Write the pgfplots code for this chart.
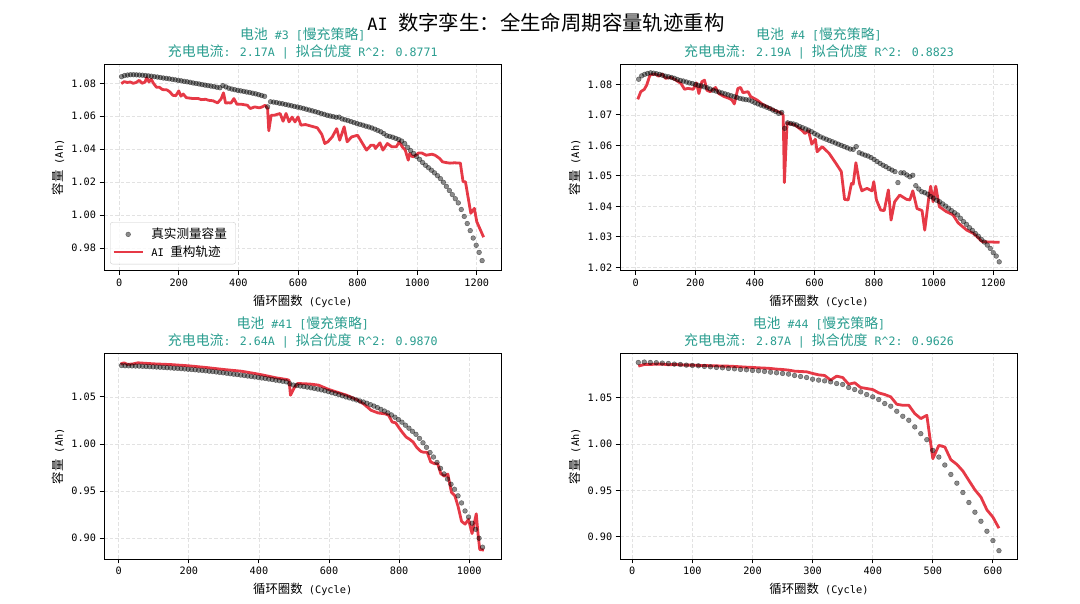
\documentclass[border=0pt]{standalone}
\usepackage{fontspec}
\setmainfont{DejaVu Sans Mono}
\newfontfamily\cjk[Scale=1.2]{Noto Sans CJK SC}
\usepackage{pgfplots}
\pgfplotsset{compat=1.18}
\definecolor{titlec}{HTML}{2A9D8F}
\definecolor{redc}{HTML}{E63946}
\definecolor{gridc}{HTML}{E2E2E2}
\definecolor{legc}{HTML}{CCCCCC}
\tikzset{ttl/.style={anchor=base, text=titlec, font=\fontsize{11.6}{14}\selectfont}}
\pgfplotsset{
 bat/.style={
  scale only axis, width=397.5pt,
  axis line style={line width=0.9pt, black},
  tick align=outside, tick pos=left,
  major tick length=4.5pt,
  tick style={black, line width=0.9pt},
  grid=major,
  major grid style={gridc, line width=0.8pt, dash pattern=on 3.5pt off 2pt},
  ticklabel style={font=\fontsize{10.2}{12}\selectfont},
  /pgf/number format/assume math mode=true,
  scaled ticks=false,
  xticklabel style={/pgf/number format/1000 sep={}},
  yticklabel style={/pgf/number format/fixed, /pgf/number format/fixed zerofill, /pgf/number format/precision=2},
  label style={font=\fontsize{10.3}{12}\selectfont},
  xlabel={{\cjk 循环圈数} (Cycle)},
  ylabel={{\cjk 容量} (Ah)},
  xlabel style={at={(axis description cs:0.5,0)}, anchor=base, yshift=-34.8pt},
  ylabel style={at={(axis description cs:-0.1036,0.5)}, anchor=base},
 },
 sc/.style={only marks, mark=*, mark size=2.4pt, mark options={fill=black, draw=black, fill opacity=0.45, draw opacity=0.5, line width=0.4pt}},
 ln/.style={redc, line width=2.8pt, line join=round, mark=none},
 scleg/.style={legend image code/.code={\path[draw=none, fill=none] (0pt,0pt) -- (29pt,0pt); \draw[##1, only marks] plot coordinates {(14.6pt,0pt)};}},
 lnleg/.style={legend image code/.code={\draw[##1] (0pt,0pt) -- (29pt,0pt);}},
}
\begin{document}
\begin{tikzpicture}
% ---------------- A ----------------
\begin{axis}[bat, name=A, at={(104pt,333.3pt)}, anchor=south west, height=206.7pt,
  xmin=-51, xmax=1283, ymin=0.9664, ymax=1.0917,
  xtick={0,200,400,600,800,1000,1200}, ytick={0.98,1.00,1.02,1.04,1.06,1.08},
  legend style={at={(axis description cs:0,0)}, anchor=south west, xshift=6pt, yshift=6.4pt,
    draw=legc, rounded corners=2.5pt, fill=white, fill opacity=0.8, text opacity=1, draw opacity=1,
    inner xsep=2pt, inner ysep=4pt, font=\fontsize{10.5}{12}\selectfont, row sep=1.5pt, column sep=5.3pt},
  legend cell align=left]
\addplot[sc, scleg] coordinates {
(8,1.0840)(18,1.0847)(28,1.0850)(38,1.0852)(48,1.0852)(58,1.0851)(68,1.0850)(78,1.0849)(88,1.0847)(98,1.0845)
(108,1.0843)(118,1.0840)(128,1.0838)(138,1.0835)(148,1.0832)(158,1.0830)(168,1.0827)(178,1.0824)(188,1.0821)(198,1.0818)
(208,1.0815)(218,1.0812)(228,1.0809)(238,1.0806)(248,1.0802)(258,1.0799)(268,1.0796)(278,1.0792)(288,1.0789)(298,1.0786)
(308,1.0783)(318,1.0780)(328,1.0776)(338,1.0773)(348,1.0786)(358,1.0778)(368,1.0770)(378,1.0765)(388,1.0761)(398,1.0757)
(408,1.0754)(418,1.0751)(428,1.0747)(438,1.0744)(448,1.0740)(458,1.0736)(468,1.0731)(478,1.0726)(488,1.0721)(498,1.0657)
(508,1.0688)(518,1.0686)(528,1.0683)(538,1.0679)(548,1.0676)(558,1.0672)(568,1.0668)(578,1.0664)(588,1.0660)(598,1.0656)
(608,1.0652)(618,1.0648)(628,1.0643)(638,1.0638)(648,1.0633)(658,1.0628)(668,1.0623)(678,1.0617)(688,1.0612)(698,1.0606)
(708,1.0602)(718,1.0598)(728,1.0594)(738,1.0595)(748,1.0584)(758,1.0579)(768,1.0574)(778,1.0568)(788,1.0562)(798,1.0556)
(808,1.0551)(818,1.0546)(828,1.0540)(838,1.0535)(848,1.0529)(858,1.0522)(868,1.0514)(878,1.0506)(888,1.0495)(898,1.0482)
(908,1.0478)(918,1.0473)(928,1.0466)(938,1.0459)(948,1.0450)(958,1.0435)(968,1.0412)(978,1.0392)(988,1.0375)(998,1.0356)
(1008,1.0339)(1018,1.0320)(1028,1.0303)(1038,1.0288)(1048,1.0273)(1058,1.0257)(1068,1.0240)(1078,1.0222)(1088,1.0200)(1098,1.0175)
(1108,1.0150)(1118,1.0125)(1128,1.0100)(1138,1.0075)(1148,1.0035)(1158,0.9993)(1168,0.9950)(1178,0.9907)(1188,0.9862)(1198,0.9818)
(1208,0.9775)(1218,0.9725)};
\addlegendentry{{\cjk 真实测量容量}\hspace*{4.8pt}}
\addplot[ln, lnleg] coordinates {
(7,1.0798)(17,1.0810)(27,1.0805)(37,1.0808)(47,1.0800)(57,1.0805)(67,1.0818)(77,1.0800)(87,1.0808)(92,1.0834)
(100,1.0808)(107,1.0826)(115,1.0800)(125,1.0776)(135,1.0776)(145,1.0762)(160,1.0760)(170,1.0748)(180,1.0727)(190,1.0725)
(200,1.0754)(207,1.0722)(215,1.0735)(225,1.0713)(245,1.0708)(265,1.0708)(275,1.0701)(290,1.0703)(300,1.0697)(315,1.0694)
(330,1.0681)(342,1.0705)(350,1.0742)(357,1.0680)(367,1.0682)(375,1.0680)(385,1.0707)(395,1.0673)(410,1.0673)(430,1.0667)
(440,1.0647)(455,1.0657)(470,1.0651)(480,1.0657)(490,1.0667)(498,1.0647)(502,1.0512)(510,1.0606)(520,1.0606)(540,1.0617)
(550,1.0570)(560,1.0617)(570,1.0566)(580,1.0595)(590,1.0566)(600,1.0596)(610,1.0546)(625,1.0550)(645,1.0540)(665,1.0530)
(680,1.0490)(690,1.0435)(700,1.0445)(715,1.0475)(730,1.0525)(740,1.0455)(755,1.0536)(765,1.0445)(780,1.0475)(800,1.0485)
(830,1.0395)(845,1.0425)(855,1.0425)(860,1.0405)(875,1.0439)(885,1.0395)(900,1.0435)(915,1.0415)(930,1.0415)(940,1.0445)
(950,1.0415)(960,1.0395)(970,1.0334)(975,1.0374)(985,1.0354)(995,1.0364)(1005,1.0378)(1015,1.0378)(1030,1.0364)(1050,1.0370)
(1060,1.0364)(1075,1.0345)(1085,1.0324)(1095,1.0320)(1110,1.0316)(1125,1.0318)(1145,1.0316)(1154,1.0203)(1162,1.0203)(1180,1.0012)
(1192,1.0042)(1200,0.9961)(1223,0.9867)};
\addlegendentry{AI {\cjk 重构轨迹}}
\end{axis}
% ---------------- B ----------------
\begin{axis}[bat, name=B, at={(620.2pt,333.3pt)}, anchor=south west, height=206.7pt,
  xmin=-52, xmax=1282, ymin=1.0189, ymax=1.0867,
  xtick={0,200,400,600,800,1000,1200}, ytick={1.02,1.03,1.04,1.05,1.06,1.07,1.08}]
\addplot[sc] coordinates {
(10,1.0817)(20,1.0828)(30,1.0833)(40,1.0836)(50,1.0838)(60,1.0837)(70,1.0835)(80,1.0833)(90,1.0830)(100,1.0827)
(110,1.0825)(120,1.0823)(130,1.0820)(140,1.0816)(150,1.0813)(160,1.0811)(170,1.0808)(180,1.0805)(190,1.0803)(200,1.0800)
(210,1.0797)(220,1.0795)(230,1.0792)(240,1.0789)(250,1.0785)(260,1.0781)(270,1.0778)(280,1.0775)(290,1.0772)(300,1.0769)
(310,1.0766)(320,1.0763)(330,1.0760)(340,1.0757)(350,1.0754)(360,1.0752)(370,1.0750)(380,1.0749)(390,1.0745)(400,1.0740)
(410,1.0736)(420,1.0732)(430,1.0729)(440,1.0725)(450,1.0721)(460,1.0716)(470,1.0711)(480,1.0705)(490,1.0708)(500,1.0656)
(510,1.0674)(520,1.0672)(530,1.0670)(540,1.0667)(550,1.0662)(560,1.0658)(570,1.0654)(580,1.0650)(590,1.0645)(600,1.0639)
(610,1.0634)(620,1.0628)(630,1.0624)(640,1.0620)(650,1.0616)(660,1.0612)(670,1.0608)(680,1.0604)(690,1.0600)(700,1.0596)
(710,1.0592)(720,1.0588)(730,1.0587)(740,1.0596)(750,1.0576)(760,1.0572)(770,1.0568)(780,1.0565)(790,1.0560)(800,1.0554)
(810,1.0547)(820,1.0541)(830,1.0535)(840,1.0530)(850,1.0524)(860,1.0519)(870,1.0514)(880,1.0478)(890,1.0510)(900,1.0510)
(910,1.0503)(920,1.0497)(930,1.0502)(940,1.0468)(950,1.0457)(960,1.0448)(970,1.0445)(980,1.0440)(990,1.0432)(1000,1.0427)
(1010,1.0420)(1020,1.0415)(1030,1.0408)(1040,1.0401)(1050,1.0394)(1060,1.0386)(1070,1.0379)(1080,1.0372)(1090,1.0361)(1100,1.0350)
(1110,1.0341)(1120,1.0330)(1130,1.0321)(1140,1.0311)(1150,1.0302)(1160,1.0292)(1170,1.0283)(1180,1.0273)(1190,1.0262)(1200,1.0248)
(1210,1.0237)(1220,1.0218)};
\addplot[ln] coordinates {
(7,1.0751)(17,1.0776)(29,1.0784)(37,1.0798)(48,1.0831)(66,1.0834)(77,1.0827)(89,1.0834)(100,1.0820)(118,1.0823)
(135,1.0814)(152,1.0803)(164,1.0784)(175,1.0787)(193,1.0784)(204,1.0805)(212,1.0770)(222,1.0809)(231,1.0814)(239,1.0781)
(250,1.0776)(268,1.0790)(279,1.0770)(297,1.0760)(314,1.0754)(323,1.0749)(331,1.0736)(343,1.0787)(352,1.0790)(360,1.0773)
(377,1.0776)(386,1.0760)(407,1.0749)(424,1.0736)(441,1.0727)(464,1.0716)(487,1.0707)(495,1.0699)(499,1.0478)(508,1.0674)
(534,1.0667)(557,1.0650)(568,1.0639)(580,1.0648)(591,1.0604)(603,1.0620)(609,1.0579)(626,1.0596)(649,1.0574)(672,1.0541)
(690,1.0514)(701,1.0423)(713,1.0421)(724,1.0475)(730,1.0473)(739,1.0543)(751,1.0475)(759,1.0451)(776,1.0459)(793,1.0451)
(799,1.0481)(808,1.0421)(822,1.0388)(834,1.0386)(848,1.0454)(857,1.0355)(869,1.0415)(886,1.0437)(909,1.0423)(920,1.0421)
(930,1.0451)(944,1.0393)(961,1.0386)(970,1.0322)(984,1.0432)(990,1.0466)(998,1.0415)(1007,1.0466)(1019,1.0399)(1042,1.0383)
(1065,1.0372)(1082,1.0346)(1111,1.0322)(1134,1.0311)(1163,1.0284)(1221,1.0282)};
\end{axis}
% ---------------- C ----------------
\begin{axis}[bat, name=C, at={(104pt,45pt)}, anchor=south west, height=205.7pt,
  xmin=-42, xmax=1092, ymin=0.878, ymax=1.0963,
  xtick={0,200,400,600,800,1000}, ytick={0.90,0.95,1.00,1.05}]
\addplot[sc] coordinates {
(8,1.0833)(18,1.0831)(28,1.0830)(38,1.0829)(48,1.0828)(58,1.0827)(68,1.0825)(78,1.0823)(88,1.0821)(98,1.0819)
(108,1.0817)(118,1.0815)(128,1.0813)(138,1.0810)(148,1.0808)(158,1.0805)(168,1.0803)(178,1.0800)(188,1.0797)(198,1.0794)
(208,1.0791)(218,1.0788)(228,1.0784)(238,1.0781)(248,1.0777)(258,1.0773)(268,1.0769)(278,1.0765)(288,1.0760)(298,1.0756)
(308,1.0751)(318,1.0746)(328,1.0741)(338,1.0737)(348,1.0732)(358,1.0727)(368,1.0722)(378,1.0717)(388,1.0712)(398,1.0707)
(408,1.0701)(418,1.0696)(428,1.0690)(438,1.0684)(448,1.0678)(458,1.0672)(468,1.0666)(478,1.0660)(488,1.0640)(498,1.0626)
(508,1.0621)(518,1.0616)(528,1.0610)(538,1.0604)(548,1.0597)(558,1.0590)(568,1.0583)(578,1.0575)(588,1.0566)(598,1.0556)
(608,1.0545)(618,1.0535)(628,1.0524)(638,1.0512)(648,1.0500)(658,1.0490)(668,1.0479)(678,1.0468)(688,1.0457)(698,1.0446)
(708,1.0433)(718,1.0418)(728,1.0403)(738,1.0387)(748,1.0368)(758,1.0350)(768,1.0331)(778,1.0309)(788,1.0285)(798,1.0260)
(808,1.0232)(818,1.0200)(828,1.0168)(838,1.0135)(848,1.0103)(858,1.0060)(868,1.0013)(878,0.9965)(888,0.9910)(898,0.9862)
(908,0.9805)(918,0.9742)(928,0.9683)(938,0.9628)(948,0.9573)(958,0.9520)(968,0.9450)(978,0.9375)(988,0.9290)(998,0.9225)
(1008,0.9160)(1018,0.9095)(1028,0.9000)(1038,0.8905)};
\addplot[ln] coordinates {
(5,1.0848)(15,1.0862)(25,1.0845)(40,1.0850)(55,1.0862)(100,1.0851)(150,1.0843)(200,1.0830)(250,1.0812)(300,1.0791)
(350,1.0773)(400,1.0741)(450,1.0702)(480,1.0684)(486,1.0676)(490,1.0518)(501,1.0599)(510,1.0642)(530,1.0640)(550,1.0635)
(570,1.0625)(600,1.0578)(650,1.0518)(680,1.0470)(700,1.0422)(720,1.0358)(740,1.0330)(760,1.0320)(770,1.0305)(780,1.0234)
(790,1.0225)(800,1.0170)(810,1.0120)(820,1.0074)(830,1.0050)(840,1.0021)(850,0.9965)(862,0.9922)(870,0.9912)(880,0.9912)
(890,0.9810)(902,0.9790)(910,0.9790)(919,0.9684)(929,0.9660)(939,0.9680)(949,0.9489)(959,0.9450)(968,0.9340)(978,0.9180)
(988,0.9150)(998,0.9200)(1008,0.9050)(1020,0.9260)(1025,0.9046)(1030,0.8880)(1042,0.8875)};
\end{axis}
% ---------------- D ----------------
\begin{axis}[bat, name=D, at={(620.2pt,45pt)}, anchor=south west, height=205.7pt,
  xmin=-20.1, xmax=641.2, ymin=0.8758, ymax=1.0982,
  xtick={0,100,200,300,400,500,600}, ytick={0.90,0.95,1.00,1.05}]
\addplot[sc] coordinates {
(10,1.0883)(20,1.0887)(30,1.0883)(40,1.0880)(50,1.0876)(60,1.0872)(70,1.0865)(80,1.0861)(90,1.0854)(100,1.0851)
(110,1.0847)(120,1.0840)(130,1.0836)(140,1.0829)(150,1.0825)(160,1.0818)(170,1.0814)(180,1.0807)(190,1.0804)(200,1.0796)
(210,1.0793)(220,1.0786)(230,1.0778)(240,1.0771)(250,1.0764)(260,1.0757)(270,1.0742)(280,1.0731)(290,1.0720)(300,1.0702)
(310,1.0692)(320,1.0684)(330,1.0673)(340,1.0655)(350,1.0645)(360,1.0612)(370,1.0590)(380,1.0565)(390,1.0536)(400,1.0511)
(410,1.0482)(420,1.0439)(430,1.0410)(440,1.0355)(450,1.0301)(460,1.0258)(470,1.0186)(480,1.0113)(490,1.0048)(500,0.9932)
(510,0.9860)(520,0.9774)(530,0.9672)(540,0.9578)(550,0.9477)(560,0.9369)(570,0.9264)(580,0.9166)(590,0.9058)(600,0.8957)
(610,0.8848)};
\addplot[ln] coordinates {
(10,1.0843)(20,1.0861)(30,1.0861)(40,1.0865)(50,1.0865)(60,1.0858)(70,1.0861)(80,1.0858)(90,1.0854)(100,1.0854)
(110,1.0851)(120,1.0851)(130,1.0847)(140,1.0847)(150,1.0843)(160,1.0843)(170,1.0840)(180,1.0836)(190,1.0832)(200,1.0829)
(210,1.0825)(220,1.0822)(230,1.0818)(240,1.0811)(250,1.0807)(260,1.0800)(270,1.0789)(280,1.0785)(290,1.0782)(300,1.0764)
(310,1.0749)(320,1.0742)(330,1.0692)(340,1.0735)(350,1.0720)(360,1.0648)(370,1.0663)(380,1.0612)(390,1.0601)(400,1.0590)
(410,1.0554)(420,1.0536)(430,1.0511)(440,1.0431)(450,1.0420)(460,1.0420)(470,1.0330)(480,1.0276)(490,1.0312)(500,0.9842)
(510,0.9987)(520,0.9969)(530,0.9831)(540,0.9781)(550,0.9709)(560,0.9607)(570,0.9506)(580,0.9427)(590,0.9289)(600,0.9210)
(610,0.9091)};
\end{axis}
% ---------------- titles ----------------
\node[ttl] at ([yshift=24.4pt]A.north) {{\cjk 电池} \#3 [{\cjk 慢充策略}]};
\node[ttl] at ([yshift=7.3pt]A.north) {{\cjk 充电电流}: 2.17A \textbar{} {\cjk 拟合优度} R\textasciicircum{}2: 0.8771};
\node[ttl] at ([yshift=24.4pt]B.north) {{\cjk 电池} \#4 [{\cjk 慢充策略}]};
\node[ttl] at ([yshift=7.3pt]B.north) {{\cjk 充电电流}: 2.19A \textbar{} {\cjk 拟合优度} R\textasciicircum{}2: 0.8823};
\node[ttl] at ([yshift=24.4pt]C.north) {{\cjk 电池} \#41 [{\cjk 慢充策略}]};
\node[ttl] at ([yshift=7.3pt]C.north) {{\cjk 充电电流}: 2.64A \textbar{} {\cjk 拟合优度} R\textasciicircum{}2: 0.9870};
\node[ttl] at ([yshift=24.4pt]D.north) {{\cjk 电池} \#44 [{\cjk 慢充策略}]};
\node[ttl] at ([yshift=7.3pt]D.north) {{\cjk 充电电流}: 2.87A \textbar{} {\cjk 拟合优度} R\textasciicircum{}2: 0.9626};
\node[anchor=base, font=\fontsize{17}{20}\selectfont] at (546pt,573.3pt) {AI {\cjk 数字孪生：全生命周期容量轨迹重构}};
\pgfresetboundingbox
\path[use as bounding box] (0pt,0pt) rectangle (1080pt,604pt);
\end{tikzpicture}
\end{document}
